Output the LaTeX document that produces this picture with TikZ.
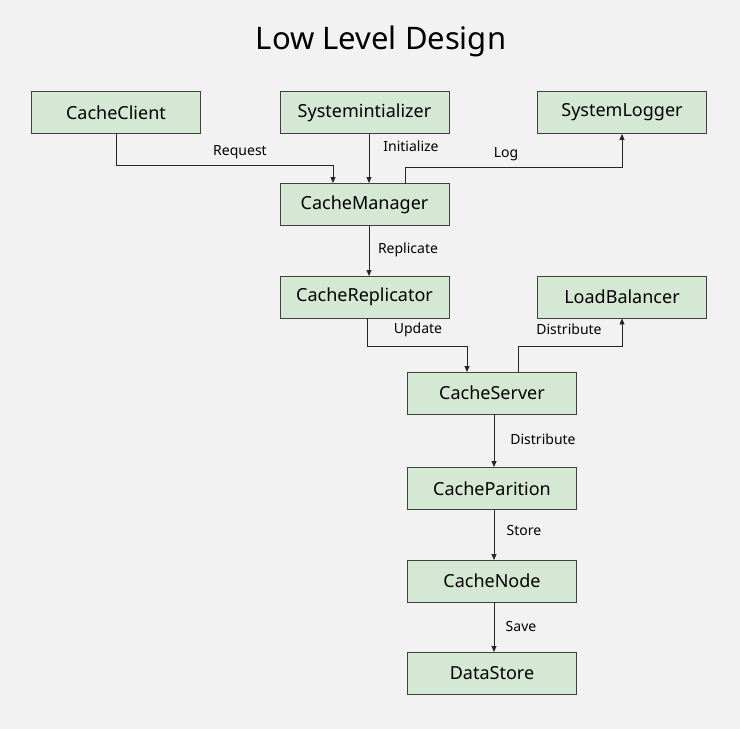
\documentclass[tikz,border=0pt]{standalone}
\usepackage{fontspec}
\setmainfont{Noto Sans}
\usetikzlibrary{arrows.meta}
\definecolor{bg}{HTML}{F2F2F2}
\definecolor{boxfill}{HTML}{D5E8D4}
\begin{document}
\begin{tikzpicture}[x=1pt,y=-1pt,
 box/.style={draw=black!75,fill=boxfill,line width=0.8pt,minimum width=169pt,minimum height=42pt,inner sep=0pt,font=\fontsize{18}{20}\selectfont\bfseries},
 lbl/.style={font=\fontsize{14}{16}\selectfont},
 arr/.style={-{Triangle[length=6pt,width=5pt]},line width=0.8pt,black!85}]
\fill[bg] (0,0) rectangle (740,729);
\node[font=\fontsize{31}{34}\selectfont\bfseries] (title) at (381,41) {Low Level Design};
\node[box] (client) at (116,112.5) {CacheClient};
\node[box] (init) at (364.5,112.5) {Systemintializer};
\node[box] (logger) at (622,112.5) {SystemLogger};
\node[box] (mgr) at (364.5,204.5) {CacheManager};
\node[box] (rep) at (364.5,297) {CacheReplicator};
\node[box] (lb) at (622,297) {LoadBalancer};
\node[box] (srv) at (492,393) {CacheServer};
\node[box] (part) at (492,488.5) {CacheParition};
\node[box] (node) at (492,581) {CacheNode};
\node[box] (ds) at (492,673) {DataStore};
\draw[arr] (client.south) |- (333,165) -- (333,183);
\node[lbl] at (240,152) {Request};
\draw[arr] (369,134) -- (369,183);
\node[lbl] at (411,146) {Initialize};
\draw[arr] (405,183) |- (622,167) -- (logger.south);
\node[lbl] at (506,154) {Log};
\draw[arr] (369,226) -- (369,276);
\node[lbl] at (408,250) {Replicate};
\draw[arr] (367,318) |- (467,346) -- (467,372);
\node[lbl] at (418,330) {Update};
\draw[arr] (518,372) |- (622,346) -- (lb.south);
\node[lbl] at (569,329) {Distribute};
\draw[arr] (494,414) -- (494,467);
\node[lbl] at (543,439) {Distribute};
\draw[arr] (494,510) -- (494,560);
\node[lbl] at (524,530) {Store};
\draw[arr] (494,602) -- (494,652);
\node[lbl] at (521,626) {Save};
\end{tikzpicture}
\end{document}
